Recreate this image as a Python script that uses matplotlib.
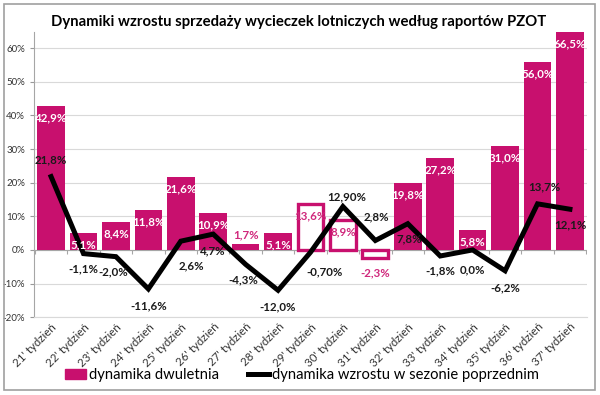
import matplotlib
matplotlib.use("Agg")
import matplotlib.pyplot as plt
from matplotlib.patches import Rectangle
import numpy as np

plt.rcParams["font.family"] = ["Lato", "DejaVu Sans"]

weeks = [f"{w}' tydzień" for w in range(21, 38)]
two_year = [42.9, 5.1, 8.4, 11.8, 21.6, 10.9, 1.7, 5.1, 13.6, 8.9, -2.3,
            19.8, 27.2, 5.8, 31.0, 56.0, 66.5]
prev_season = [21.8, -1.1, -2.0, -11.6, 2.6, 4.7, -4.3, -12.0, -0.70, 12.90,
               2.8, 7.8, -1.8, 0.0, -6.2, 13.7, 12.1]
prev_labels = ["21,8%", "-1,1%", "-2,0%", "-11,6%", "2,6%", "4,7%", "-4,3%",
               "-12,0%", "-0,70%", "12,90%", "2,8%", "7,8%", "-1,8%", "0,0%",
               "-6,2%", "13,7%", "12,1%"]
hollow = [False] * 8 + [True, True, True] + [False] * 6

MAG = "#C8106E"
MAG_TXT = "#D0287C"
FS = 8.3

fig = plt.figure(figsize=(6.0, 3.95), dpi=100)
ax = fig.add_axes([0.057, 0.197, 0.921, 0.722])

x = np.arange(len(weeks))
for i, (v, h) in enumerate(zip(two_year, hollow)):
    if h:
        ax.bar(x[i], v, width=0.8, facecolor="white", edgecolor=MAG,
               linewidth=2.4, zorder=2)
    else:
        ax.bar(x[i], v, width=0.85, color=MAG, zorder=2)

ax.plot(x, prev_season, color="black", lw=3.6, zorder=4,
        solid_joinstyle="miter")

# bar labels
for i, (v, h) in enumerate(zip(two_year, hollow)):
    txt = f"{v:.1f}%".replace(".", ",")
    if v < 0:
        ax.annotate(txt, (x[i], v), xytext=(0, -11), textcoords="offset points",
                    ha="center", va="center", fontsize=FS, fontweight="bold",
                    color=MAG_TXT, zorder=5)
    elif v < 3:
        ax.annotate(txt, (x[i], v), xytext=(0, 7), textcoords="offset points",
                    ha="center", va="center", fontsize=FS, fontweight="bold",
                    color=MAG_TXT, zorder=5)
    else:
        top = min(v, 64.8)
        ax.annotate(txt, (x[i], top), xytext=(0, -8.5), textcoords="offset points",
                    ha="center", va="center", fontsize=FS, fontweight="bold",
                    color=MAG_TXT if h else "white", zorder=5)

# line labels: (dx, dy) offsets in points
offs = [(0, 12), (0, -11), (-2, -11), (0, -12), (8, -18), (0, -12), (-2, -11),
        (0, -12), (10, -14), (3, 7), (1, 17), (1, -11), (0, -11), (0, -14),
        (0, -12), (5, 12), (0, -11)]
for i, (v, lab) in enumerate(zip(prev_season, prev_labels)):
    dx, dy = offs[i]
    ax.annotate(lab, (x[i], v), xytext=(dx, dy), textcoords="offset points",
                ha="center", va="center", fontsize=FS, fontweight="bold",
                color="#1a1a1a", zorder=5)

ax.set_xlim(-0.52, len(weeks) - 0.48)
ax.set_ylim(-20, 64.8)
ax.set_yticks(np.arange(-20, 61, 10))
ax.set_yticklabels([f"{t}%" for t in range(-20, 61, 10)], fontsize=7,
                   color="#333333")
ax.yaxis.grid(True, color="#D9D9D9", lw=0.8, zorder=0)
ax.set_axisbelow(True)
ax.tick_params(axis="y", length=3, color="#999999")
ax.axhline(0, color="#A6A6A6", lw=0.8, zorder=1)
ax.vlines(np.arange(len(weeks) + 1) - 0.5, -1.2, 0, color="#A6A6A6", lw=0.8,
          zorder=1)

ax.set_xticks(x)
ax.set_xticklabels(weeks, rotation=45, ha="right", rotation_mode="anchor",
                   fontsize=8.3, color="#333333")
ax.tick_params(axis="x", length=0, pad=3)

for s in ["top", "right"]:
    ax.spines[s].set_visible(False)
ax.spines["left"].set_color("#A6A6A6")
ax.spines["bottom"].set_color("#D9D9D9")

fig.text(0.497, 0.944, "Dynamiki wzrostu sprzedaży wycieczek lotniczych według raportów PZOT",
         ha="center", va="center", fontsize=10.7, fontweight="bold")

# legend
h1 = Rectangle((0, 0), 1, 1, color=MAG)
h2 = plt.Line2D([0], [0], color="black", lw=3.6)
fig.legend([h1, h2], ["dynamika dwuletnia", "dynamika wzrostu w sezonie poprzednim"],
           loc="center", bbox_to_anchor=(0.503, 0.05), ncol=2, frameon=False,
           fontsize=10.6, handlelength=1.4, handletextpad=0.2,
           columnspacing=2.0)

fig.patches.append(Rectangle((0.006, 0.012), 0.985, 0.978,
                             transform=fig.transFigure, fill=False,
                             edgecolor="#A0A0A0", lw=1.2))

fig.savefig("out.png", dpi=100)
